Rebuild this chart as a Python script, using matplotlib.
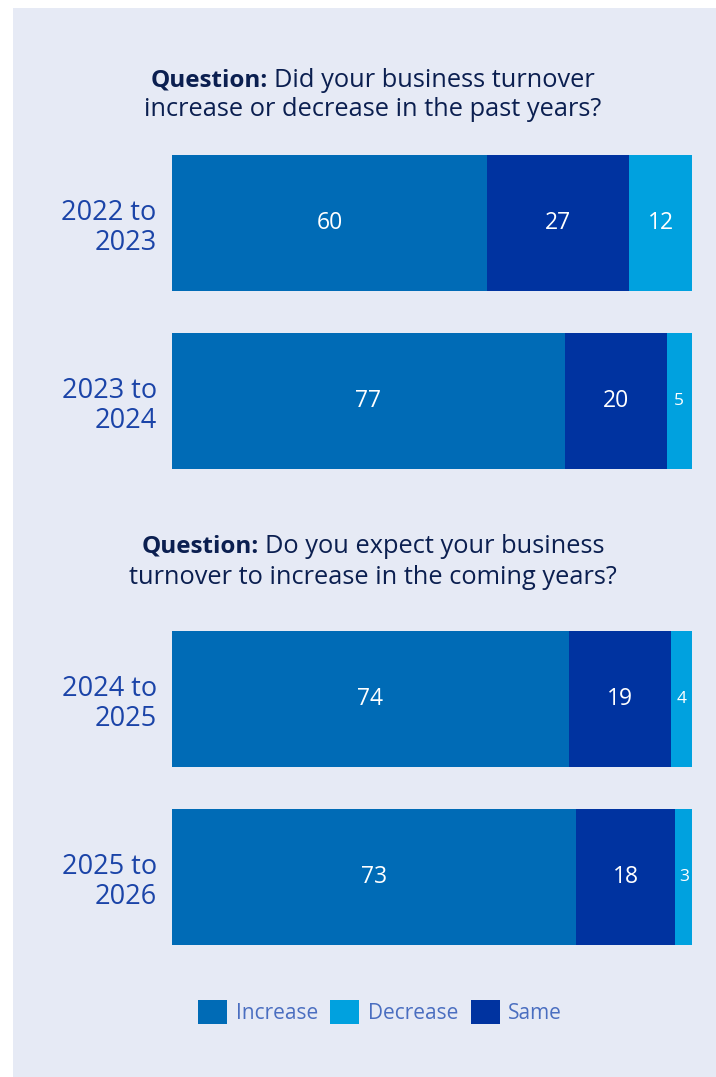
import matplotlib.pyplot as plt
from matplotlib.patches import Patch, Rectangle

# Survey answers (percent of respondents)
past_periods = ['2022 to\n2023', '2023 to\n2024']
past_increase = [60, 77]
past_same = [27, 20]
past_decrease = [12, 5]

future_periods = ['2024 to\n2025', '2025 to\n2026']
future_increase = [74, 73]
future_same = [19, 18]
future_decrease = [4, 3]

title_past = ['Did your business turnover', 'increase or decrease in the past years?']
title_future = ['Do you expect your business', 'turnover to increase in the coming years?']

# Colours
c_increase = '#006BB6'
c_same = '#0033A0'
c_decrease = '#00A1DF'
c_panel = '#E6EAF5'
c_title = '#0B1F50'
c_year = '#1B44A8'
c_legend = '#4A6EC0'

plt.rcParams['font.family'] = ['Open Sans', 'DejaVu Sans']

W, H = 716, 1077
fig = plt.figure(figsize=(W / 100, H / 100), dpi=100, facecolor='white')


def fx(x):
    return x / W


def fy(y):
    return 1 - y / H


# light background panel
fig.patches.append(Rectangle((fx(13), 0), 1 - fx(13), fy(8), transform=fig.transFigure,
                             facecolor=c_panel, edgecolor='none', zorder=-5))


def draw_block(top, periods, inc, same, dec):
    ax = fig.add_axes([fx(172), fy(top + 314), fx(520), 314 / H])
    ax.set_facecolor('none')
    ys = list(range(len(periods)))
    h = 136 / 178
    for i in ys:
        total = inc[i] + same[i] + dec[i]
        parts = [(inc[i], c_increase), (same[i], c_same), (dec[i], c_decrease)]
        left = 0
        for val, col in parts:
            w = val / total * 100
            ax.barh(i, w, left=left, height=h, color=col, edgecolor='none')
            size = 16.5 if val > 9 else 12.5
            ax.text(left + w / 2, i, str(val), ha='center', va='center',
                    color='white', fontsize=size)
            left += w
    ax.set_xlim(0, 100)
    ax.set_ylim(len(periods) - 1 + h / 2, -h / 2)
    ax.set_yticks(ys, periods, fontsize=19.5, color=c_year, linespacing=1.1)
    ax.tick_params(axis='y', length=0, pad=11)
    ax.set_xticks([])
    for s in ax.spines.values():
        s.set_visible(False)
    return ax


def draw_title(lines, base1, base2, cx=373):
    r = fig.canvas.get_renderer()
    tb = fig.text(0, fy(base1), 'Question:', fontsize=17.5, fontweight='bold',
                  color=c_title, va='baseline')
    tr = fig.text(0, fy(base1), lines[0], fontsize=18.3, color=c_title, va='baseline')
    wb = tb.get_window_extent(r).width
    wr = tr.get_window_extent(r).width
    gap = 6
    x0 = cx - (wb + gap + wr) / 2
    tb.set_x(fx(x0))
    tr.set_x(fx(x0 + wb + gap))
    fig.text(fx(cx), fy(base2), lines[1], fontsize=18.3, color=c_title,
             ha='center', va='baseline')


draw_block(155, past_periods, past_increase, past_same, past_decrease)
draw_block(631, future_periods, future_increase, future_same, future_decrease)

draw_title(title_past, 87, 116)
draw_title(title_future, 553, 584)

handles = [Patch(facecolor=c_increase, label='Increase'),
           Patch(facecolor=c_decrease, label='Decrease'),
           Patch(facecolor=c_same, label='Same')]
leg = fig.legend(handles=handles, loc='center', bbox_to_anchor=(fx(380), fy(1012)),
                 ncol=3, frameon=False, fontsize=15, handlelength=1.4,
                 handleheight=1.4, handletextpad=0.4, columnspacing=0.6)
for t in leg.get_texts():
    t.set_color(c_legend)

fig.savefig('out.png', dpi=100, facecolor='white')
